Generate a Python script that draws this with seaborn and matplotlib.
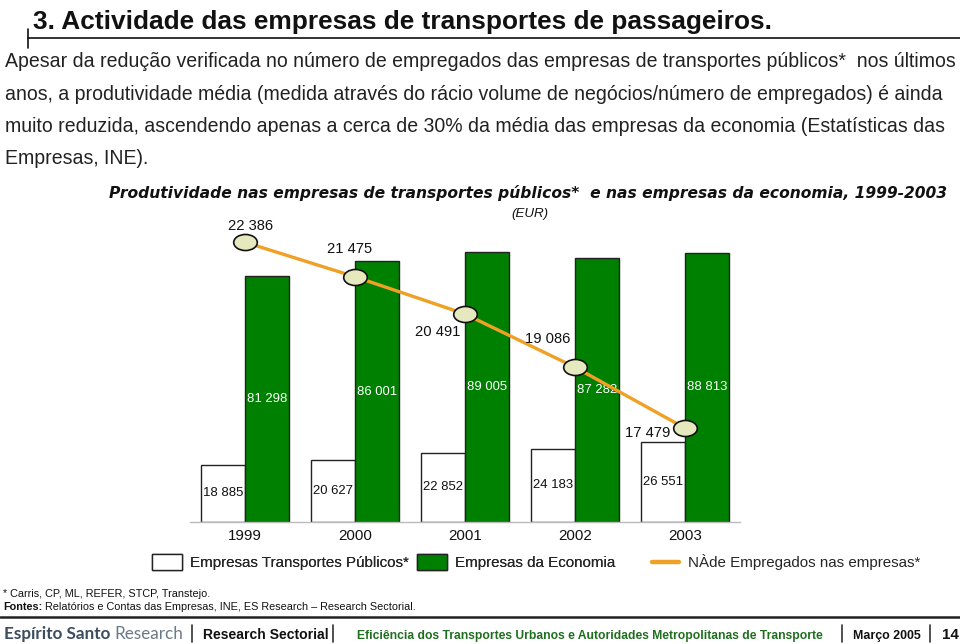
import numpy as np
import pandas as pd
import seaborn as sns
import matplotlib
matplotlib.use('Agg')
import matplotlib.pyplot as plt
from matplotlib import font_manager as fm
from matplotlib.path import Path
from matplotlib.patches import Patch
from matplotlib.lines import Line2D
from matplotlib.text import Annotation
import matplotlib.transforms as mtransforms

# ---------------- data ----------------
years = ['1999', '2000', '2001', '2002', '2003']
transportes = [18885, 20627, 22852, 24183, 26551]
economia = [81298, 86001, 89005, 87282, 88813]
empregados = [22386, 21475, 20491, 19086, 17479]
series_names = ['Empresas Transportes Públicos*', 'Empresas da Economia']
line_name = 'NÀde Empregados nas empresas*'

title = '3. Actividade das empresas de transportes de passageiros.'
paragraph = [
    'Apesar da redução verificada no número de empregados das empresas de transportes públicos*  nos últimos',
    'anos, a produtividade média (medida através do rácio volume de negócios/número de empregados) é ainda',
    'muito reduzida, ascendendo apenas a cerca de 30% da média das empresas da economia (Estatísticas das',
    'Empresas, INE).',
]
chart_title = 'Produtividade nas empresas de transportes públicos*  e nas empresas da economia, 1999-2003'
unit = '(EUR)'
footnote = '* Carris, CP, ML, REFER, STCP, Transtejo.'
fontes_bold = 'Fontes:'
fontes_rest = 'Relatórios e Contas das Empresas, INE, ES Research – Research Sectorial.'

# ---------------- style ----------------
sns.set_theme(style='white')
names = {f.name for f in fm.fontManager.ttflist}
NARROW = 'Liberation Sans Narrow' if 'Liberation Sans Narrow' in names else 'Liberation Sans'
NS = 1.0 if NARROW == 'Liberation Sans Narrow' else 0.84
plt.rcParams['font.family'] = ['Liberation Sans', 'DejaVu Sans']

GREEN = '#008000'
ORANGE = '#F0A024'
W, H = 960, 644


def fx(x):
    return x / W


def fy(y):
    return 1 - y / H


fig = plt.figure(figsize=(9.6, 6.44), dpi=100)
fig.patch.set_facecolor('white')

# ---------------- bars ----------------
ax = fig.add_axes([fx(190), fy(522), 550 / W, 303 / H])
df = pd.DataFrame({
    'ano': years * 2,
    'serie': [series_names[0]] * len(years) + [series_names[1]] * len(years),
    'valor': transportes + economia,
})
sns.barplot(data=df, x='ano', y='valor', hue='serie', hue_order=series_names,
            palette={series_names[0]: 'white', series_names[1]: GREEN},
            saturation=1, edgecolor='#222222', linewidth=1.0, width=0.8,
            legend=False, ax=ax)


def fmt(v):
    return f'{v:,}'.replace(',', ' ')


for cont, vals, col in zip(ax.containers, [transportes, economia], ['#111111', 'white']):
    ax.bar_label(cont, labels=[fmt(v) for v in vals], label_type='center',
                 color=col, fontsize=11.3 * NS, family=NARROW)

ax.set_ylim(0, 100000)
ax.set_xlim(-0.5, len(years) - 0.5)
ax.set_xlabel('')
ax.set_ylabel('')
ax.set_yticks([])
for s in ['left', 'top', 'right']:
    ax.spines[s].set_visible(False)
ax.spines['bottom'].set_color('#BBBBBB')
ax.spines['bottom'].set_linewidth(1.0)
ax.tick_params(axis='x', which='major', length=0, pad=5, labelsize=13 * NS, labelcolor='#111111')
for lab in ax.get_xticklabels():
    lab.set_family(NARROW)
ax.set_xticks(np.arange(len(years) - 1) + 0.5, minor=True)
ax.tick_params(axis='x', which='minor', length=7, direction='inout', color='#BBBBBB', width=1)
ax.grid(False)

# ---------------- line ----------------
ax2 = ax.twinx()
ell = Path.unit_circle().transformed(mtransforms.Affine2D().scale(1, 0.68))
sns.lineplot(x=np.arange(len(years)), y=empregados, ax=ax2, color=ORANGE,
             linewidth=2.4, marker=ell, markersize=17, markerfacecolor='#E6E9BE',
             markeredgecolor='#111111', markeredgewidth=1.2)
ax2.set_ylim(15000, 23000)
ax.set_xlim(-0.5, len(years) - 0.5)
ax2.set_yticks([])
ax2.set_ylabel('')
ax2.set_xlabel('')
for s in ax2.spines.values():
    s.set_visible(False)
ax2.grid(False)

label_offsets = [(6, 16), (-5, 28), (-27, -18), (-27, 28), (-37, -5)]
for i, (v, off) in enumerate(zip(empregados, label_offsets)):
    ax2.annotate(fmt(v), xy=(i, v), xytext=off, textcoords='offset pixels',
                 ha='center', va='center', fontsize=12.6 * NS, family=NARROW,
                 color='#111111')

# ---------------- legends ----------------
leg_prop = fm.FontProperties(family=NARROW, size=13 * NS)
leg1 = fig.legend(handles=[Patch(facecolor='white', edgecolor='#222222', linewidth=1.0),
                           Patch(facecolor=GREEN, edgecolor='#222222', linewidth=1.0)],
                  labels=series_names, loc='center left', bbox_to_anchor=(fx(152), fy(562)),
                  ncol=2, frameon=False, prop=leg_prop, handlelength=1.95, handleheight=1.3,
                  handletextpad=0.55, columnspacing=0.55, borderpad=0, borderaxespad=0)
leg2 = fig.legend(handles=[Line2D([0], [0], color=ORANGE, lw=3.2)], labels=[line_name],
                  loc='center left', bbox_to_anchor=(fx(652), fy(562)), frameon=False,
                  prop=leg_prop, handlelength=1.75, handletextpad=0.6, borderpad=0,
                  borderaxespad=0)
fig.add_artist(leg1)

# ---------------- page texts ----------------
fig.text(fx(33), fy(29), title, ha='left', va='baseline', family=NARROW,
         fontweight='bold', fontsize=22.5 * NS, color='#111111')
fig.add_artist(Line2D([fx(28), 1], [fy(37.5)] * 2, transform=fig.transFigure, color='#111111', lw=1.2))
fig.add_artist(Line2D([fx(28)] * 2, [fy(29), fy(48)], transform=fig.transFigure, color='#111111', lw=1.2))

for line, yb in zip(paragraph, [67, 100, 132, 164]):
    fig.text(fx(5), fy(yb), line, ha='left', va='baseline', family='Liberation Sans',
             fontsize=14.06, color='#222222')

fig.text(fx(528), fy(193), chart_title, ha='center', va='center', family='DejaVu Sans',
         fontweight='bold', style='italic', fontsize=11.2, color='#111111')
fig.text(fx(530), fy(214), unit, ha='center', va='center', family=NARROW,
         style='italic', fontsize=11.5 * NS, color='#111111')

fig.text(fx(3), fy(597), footnote, ha='left', va='baseline', family='Liberation Sans',
         fontsize=7.8, color='#111111')
t_f = fig.text(fx(3), fy(610), fontes_bold, ha='left', va='baseline', family='Liberation Sans',
               fontweight='bold', fontsize=7.8, color='#111111')
fig.add_artist(Annotation(fontes_rest, xy=(1, 0), xycoords=t_f, xytext=(3, 0),
                          textcoords='offset pixels', ha='left', va='bottom',
                          family='Liberation Sans', fontsize=7.8, color='#111111'))

# ---------------- footer ----------------
fig.add_artist(Line2D([0, 1], [fy(617)] * 2, transform=fig.transFigure, color='#222222', lw=1.8))
t_es = fig.text(fx(4), fy(639), 'Espírito Santo', ha='left', va='baseline', family='Lato',
                fontweight='bold', fontsize=12.3, color='#3B4D5E')
fig.add_artist(Annotation('Research', xy=(1, 0), xycoords=t_es, xytext=(4, 0),
                          textcoords='offset pixels', ha='left', va='bottom', family='Lato',
                          fontsize=12.3, color='#6A7A88'))
fig.text(fx(203), fy(639), 'Research Sectorial', ha='left', va='baseline', family=NARROW,
         fontweight='bold', fontsize=12 * NS, color='#111111')
fig.text(fx(357), fy(639), 'Eficiência dos Transportes Urbanos e Autoridades Metropolitanas de Transporte',
         ha='left', va='baseline', family=NARROW, fontweight='bold', fontsize=10.45 * NS, color='#1E6E1E')
fig.text(fx(853), fy(639), 'Março 2005', ha='left', va='baseline', family=NARROW,
         fontweight='bold', fontsize=10.6 * NS, color='#111111')
fig.text(fx(942), fy(639), '14', ha='left', va='baseline', family=NARROW,
         fontweight='bold', fontsize=13 * NS, color='#111111')
for xs in [192, 333, 842, 930]:
    fig.add_artist(Line2D([fx(xs)] * 2, [fy(625), fy(642)], transform=fig.transFigure,
                          color='#333333', lw=1.2))

fig.savefig('out.png', dpi=100, facecolor='white')
